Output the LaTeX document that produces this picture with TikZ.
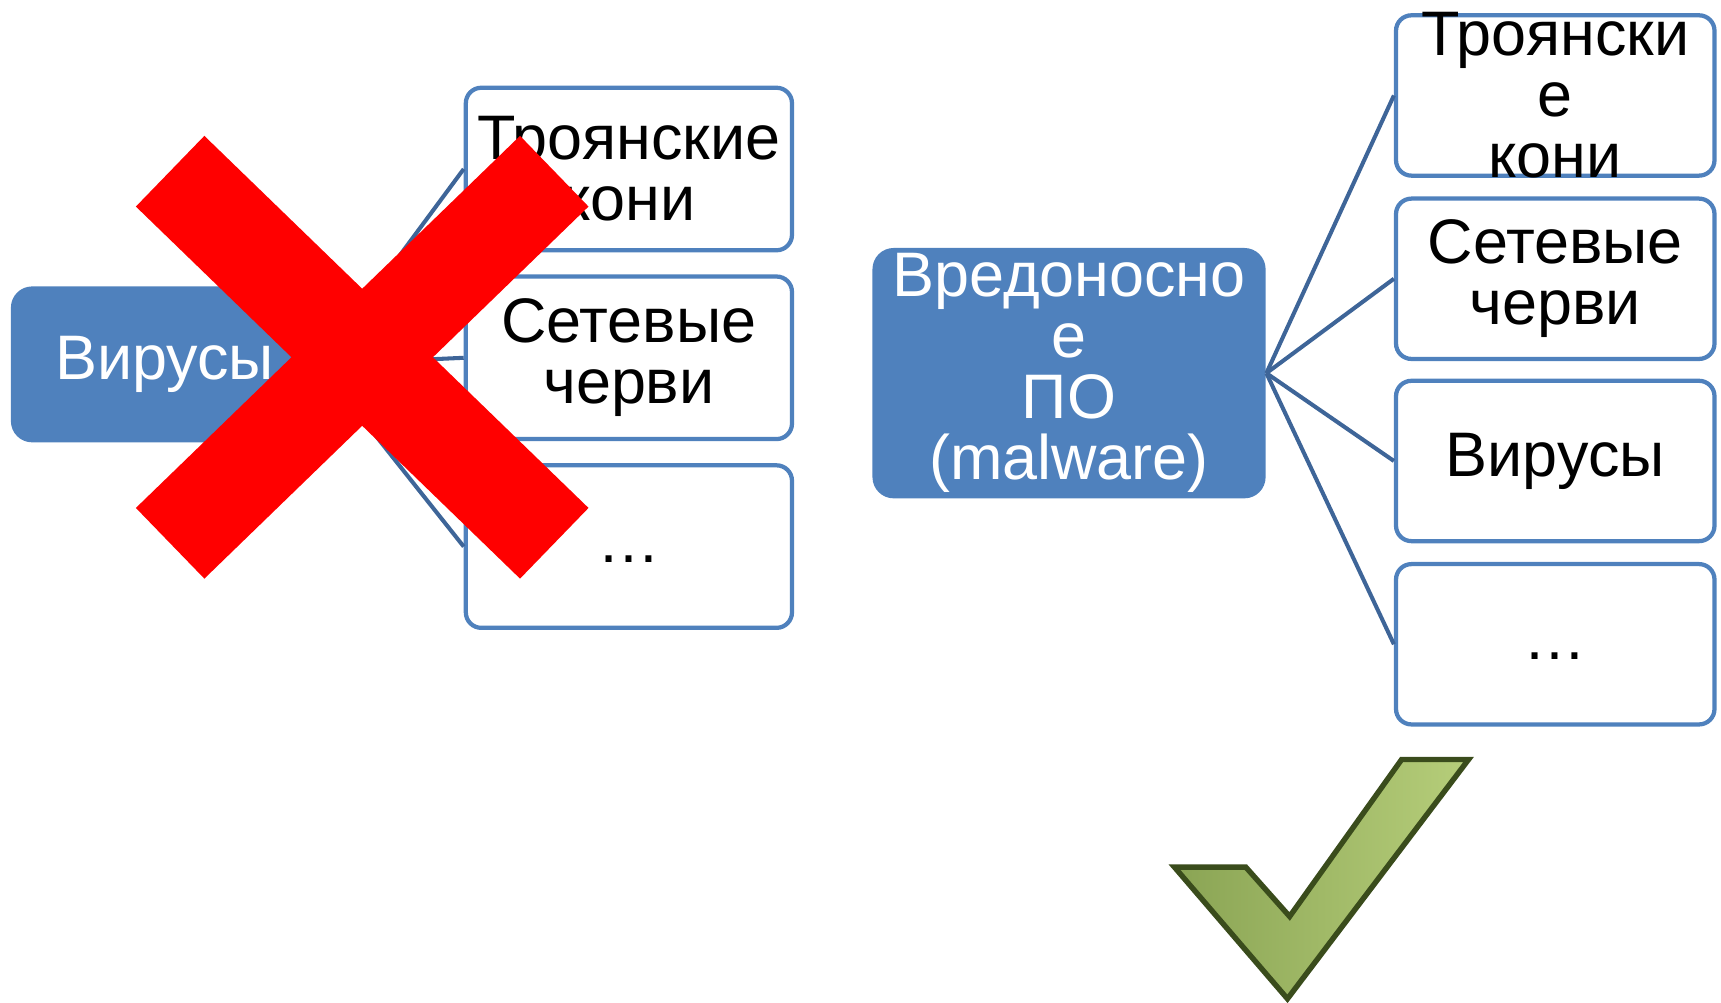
\documentclass[tikz,border=0pt]{standalone}
\usepackage{fontspec}
\setmainfont{Liberation Sans}
\definecolor{hubblue}{RGB}{79,129,189}
\definecolor{linkblue}{RGB}{62,101,152}
\definecolor{okdark}{RGB}{58,76,28}
\definecolor{oklight}{RGB}{182,206,122}
\definecolor{okmid}{RGB}{138,164,84}
\newcommand{\bigtxt}{\fontsize{16.3}{15.8}\selectfont}
\newcommand{\lowdots}{\smash{\raisebox{-4pt}{…}}}

\begin{document}
\begin{tikzpicture}[x=0.01cm,y=-0.01cm,
  hub/.style={fill=hubblue,rounded corners=5.5pt,text=white,align=center,inner sep=0pt,font=\bigtxt},
  leaf/.style={draw=hubblue,fill=white,line width=1.1pt,rounded corners=4pt,align=center,inner sep=0pt,font=\bigtxt},
  link/.style={draw=linkblue,line width=1.05pt}]
  \useasboundingbox(0,0)rectangle(1568,913);
  % old scheme: viruses on top
  \node[hub,minimum width=2.8cm,minimum height=1.42cm](virusL)at(150,332){Вирусы};
  \foreach\name/\y/\txt in {oldA/154/{Троянские\\кони},oldB/326/{Сетевые\\черви},oldC/498/{\lowdots}} {
     \node[leaf,minimum width=2.97cm,minimum height=1.48cm](\name)at(573,\y){\txt};
     \draw[link](virusL.east)--(\name.west);
  }
  % cross it out
  \draw[red,line width=25.5pt](155,156)--(505,495);
  \draw[red,line width=25.5pt](505,156)--(155,495);
  % new scheme: malware on top
  \node[hub,minimum width=3.58cm,minimum height=2.28cm](malware)at(974,340){Вредоносно\\е\\ПО\\(malware)};
  \foreach\name/\y/\txt in {newA/87/{},newB/254/{Сетевые\\черви},newC/420/{Вирусы},newD/587/{\lowdots}} {
     \node[leaf,minimum width=2.9cm,minimum height=1.46cm](\name)at(1417,\y){\txt};
     \draw[link](malware.east)--(\name.west);
  }
  \node[align=center,inner sep=0pt,font=\bigtxt](newAtxt)at(newA){Троянски\\е\\кони};
  % tick
  \shadedraw[draw=okdark,line width=1.4pt,line join=miter,left color=okmid,right color=oklight]
     (1070,790)--(1135,790)--(1175,835)--(1277,692)--(1338,692)--(1173,910)--cycle;
\end{tikzpicture}
\end{document}
